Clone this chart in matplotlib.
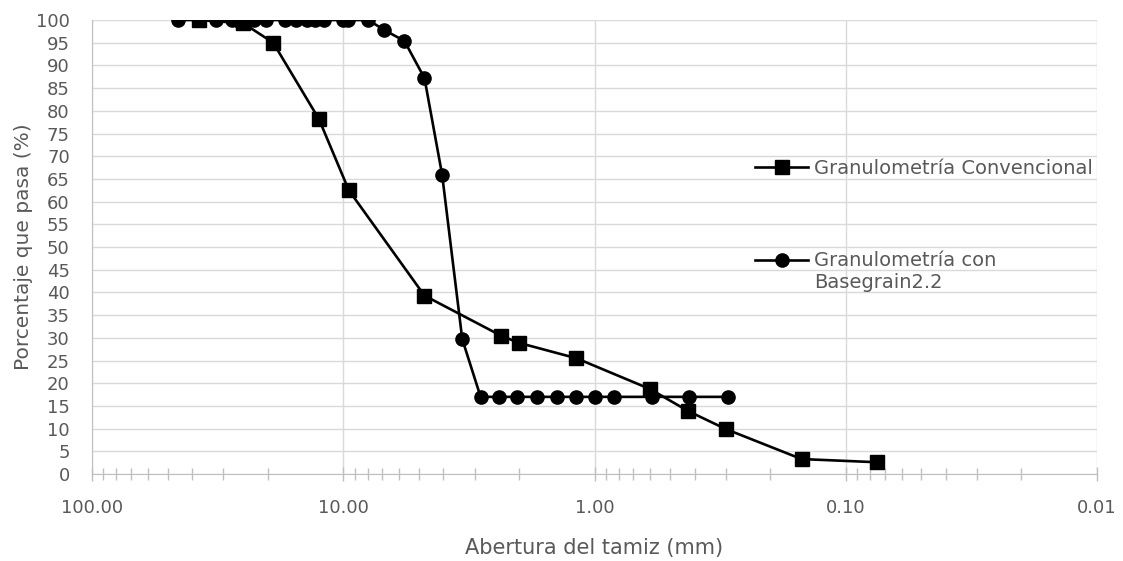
import numpy as np
import matplotlib.pyplot as plt
from matplotlib.ticker import FixedLocator, LogLocator, NullFormatter
from matplotlib.legend_handler import HandlerLine2D

# Tamices de la granulometría convencional (mm) y % que pasa
abertura_conv = [37.5, 25.0, 19.0, 12.5, 9.5, 4.75, 2.36, 2.0, 1.18, 0.6, 0.425, 0.3, 0.15, 0.075]
pasa_conv = [100.0, 99.3, 95.0, 78.2, 62.5, 39.3, 30.5, 28.9, 25.5, 18.7, 13.9, 9.9, 3.3, 2.6]

# Curva obtenida con Basegrain 2.2
abertura_bg = [45.4, 32.1, 27.7, 25.7, 22.6, 20.3, 17.0, 15.4, 14.0, 12.9, 11.9, 10.0, 9.55,
               7.94, 6.87, 5.71, 4.75, 4.04, 3.36, 2.84, 2.41, 2.03, 1.69, 1.41, 1.19, 1.0,
               0.84, 0.59, 0.42, 0.295]
pasa_bg = [100, 100, 100, 99.5, 100, 100, 100, 100, 100, 100, 100, 100, 100,
           100, 97.8, 95.4, 87.2, 65.9, 29.7, 17, 17, 17, 17, 17, 17, 17,
           17, 17, 17, 17]

ticks_x = [100, 10, 1, 0.1, 0.01]
etiquetas_x = ["100.00", "10.00", "1.00", "0.10", "0.01"]
ticks_y = list(range(0, 101, 5))

gris = "#595959"
plt.rcParams["font.family"] = ["DejaVu Sans"]


class HandlerPrimeraLinea(HandlerLine2D):
    """Sube el símbolo de la leyenda hasta la primera línea del texto."""

    def __init__(self, desplazamiento, **kw):
        super().__init__(**kw)
        self.desplazamiento = desplazamiento

    def create_artists(self, legend, orig_handle, xdescent, ydescent,
                       width, height, fontsize, trans):
        artistas = super().create_artists(legend, orig_handle, xdescent, ydescent,
                                          width, height, fontsize, trans)
        for a in artistas:
            a.set_ydata(np.asarray(a.get_ydata()) + self.desplazamiento * fontsize)
        return artistas


fig = plt.figure(figsize=(11.23, 5.61), dpi=100)
ax = fig.add_axes([0.0819, 0.155, 0.895, 0.8093])

l1, = ax.plot(abertura_conv, pasa_conv, color="black", lw=1.9, marker="s",
              markersize=9.5, label="Granulometría Convencional", zorder=3)
l2, = ax.plot(abertura_bg, pasa_bg, color="black", lw=1.9, marker="o",
              markersize=9.5, label="Granulometría con\nBasegrain2.2", zorder=3)

ax.set_xscale("log")
ax.set_xlim(100, 0.01)
ax.set_ylim(0, 100)

ax.xaxis.set_major_locator(FixedLocator(ticks_x))
ax.set_xticklabels(etiquetas_x)
ax.xaxis.set_minor_locator(LogLocator(base=10, subs=np.arange(2, 10)))
ax.xaxis.set_minor_formatter(NullFormatter())
ax.set_yticks(ticks_y)

ax.grid(True, which="major", axis="both", color="#d9d9d9", lw=1.0)
ax.set_axisbelow(True)

for lado in ["top", "right"]:
    ax.spines[lado].set_visible(False)
for lado in ["left", "bottom"]:
    ax.spines[lado].set_color("#bfbfbf")

ax.tick_params(axis="y", length=0, pad=16, labelsize=13, labelcolor=gris)
ax.tick_params(axis="x", which="major", direction="inout", length=10, width=1,
               color="#bfbfbf", pad=13, labelsize=13, labelcolor=gris)
ax.tick_params(axis="x", which="minor", direction="inout", length=8, width=1,
               color="#bfbfbf")

ax.set_xlabel("Abertura del tamiz (mm)", fontsize=15, color=gris, labelpad=15)
ax.set_ylabel("Porcentaje que pasa (%)", fontsize=14.5, color=gris, labelpad=2)

opciones = dict(frameon=False, fontsize=14, labelcolor=gris, handlelength=2.7,
                handletextpad=0.3, borderpad=0, borderaxespad=0, loc="center left")
leg1 = ax.legend(handles=[l1], bbox_to_anchor=(0.66, 0.674), **opciones)
ax.add_artist(leg1)
ax.legend(handles=[l2], bbox_to_anchor=(0.66, 0.447),
          handler_map={l2: HandlerPrimeraLinea(0.6)}, **opciones)

fig.savefig("out.png", dpi=100)
